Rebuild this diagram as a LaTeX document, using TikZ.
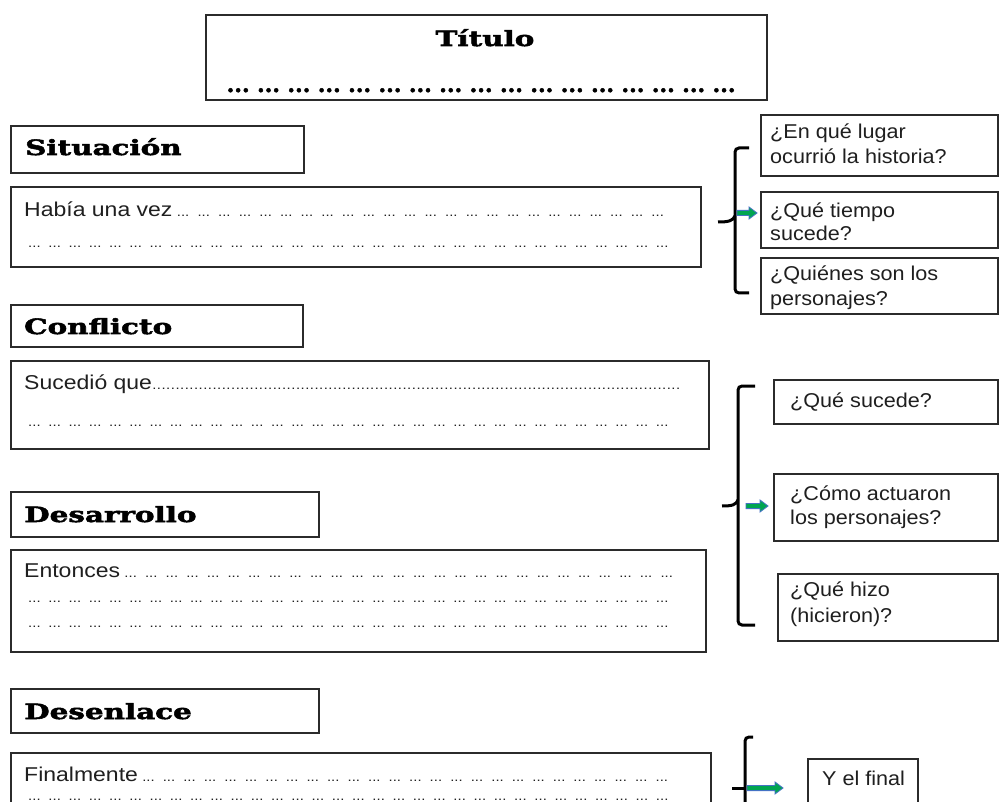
\documentclass[tikz,border=0pt]{standalone}
\usepackage{fontspec}
\setmainfont{Liberation Sans}
\newfontfamily\leftfont{Liberation Sans}[FakeStretch=1.15]
\newfontfamily\rightfont{Liberation Sans}[FakeStretch=1.08]
\newfontfamily\headfont{DejaVu Serif Bold}[FakeStretch=1.4,FakeBold=2.5]
\newfontfamily\dotfont{DejaVu Serif Bold}[FakeBold=2]
\definecolor{linegray}{HTML}{2B2B2B}
\definecolor{arrowgreen}{HTML}{00A550}
\definecolor{arrowblue}{HTML}{4472C4}
\newcommand{\smalldots}{\fontsize{13}{13}\selectfont...}
% a full text line of a fixed width: leading words, then groups of dots
\newcommand{\gline}[2]{\hbox to #1{#2\xleaders\hbox to 20pt{\hss\smalldots\hss}\hfill}}
\newcommand{\fline}[2]{\hbox to #1{#2\xleaders\hbox to 4.6pt{\hss\fontsize{13}{13}\selectfont.\hss}\hfill}}
\newcommand{\bigdots}[1]{\hbox to #1{\xleaders\hbox to 28.8pt{\hss\dotfont\fontsize{22}{22}\selectfont...\hss}\hfill}}
\newcommand{\blockarrow}[4]{% name, x0, x1, y
  \coordinate (#1) at (#3,#4);
  \draw[draw=arrowblue, fill=arrowgreen, line width=0.8pt, line join=miter]
    (#2,#4-2.6) -- (#3-8,#4-2.6) -- (#3-8,#4-6) -- (#1) -- (#3-8,#4+6) -- (#3-8,#4+2.6) -- (#2,#4+2.6) -- cycle;}
\tikzset{
  box/.style={draw=linegray, line width=1.8pt, rectangle, inner sep=0pt, anchor=north west},
  head/.style={anchor=base west, inner sep=0pt, font=\headfont\fontsize{21}{21}\selectfont},
  body/.style={anchor=base west, inner sep=0pt, font=\leftfont\fontsize{20}{20}\selectfont, text=black!88},
  qtext/.style={anchor=base west, inner sep=0pt, font=\rightfont\fontsize{20}{20}\selectfont, text=black!88},
  brace/.style={draw=black, line width=3pt, rounded corners=4pt}
}
\begin{document}
\begin{tikzpicture}[x=1pt,y=-1pt]
\useasboundingbox (0,0) rectangle (999,802);
\clip (0,0) rectangle (999,802);
% title
\node[box, minimum width=561pt, minimum height=85pt] (title) at (205,14) {};
\node[head, anchor=base] (titletext) at (485,46) {Título};
\node[anchor=base west, inner sep=0pt] (titledots) at (222,92) {\bigdots{518pt}};
% Situacion
\node[box, minimum width=293pt, minimum height=47pt] (sitbox) at (10,125) {};
\node[head] (sittext) at (25,155) {Situación};
\node[box, minimum width=690pt, minimum height=80pt] (habbox) at (10,186) {};
\node[body] (hab1) at (24,217) {\gline{644pt}{Había una vez}};
\node[body] (hab2) at (24,248) {\gline{648pt}{}};
% Conflicto
\node[box, minimum width=292pt, minimum height=42pt] (conbox) at (10,304) {};
\node[head] (context) at (24,334) {Conflicto};
\node[box, minimum width=698pt, minimum height=88pt] (sucbox) at (10,360) {};
\node[body] (suc1) at (24,389) {\fline{656pt}{Sucedió que}};
\node[body] (suc2) at (24,426) {\gline{648pt}{}};
% Desarrollo
\node[box, minimum width=308pt, minimum height=45pt] (desbox) at (10,491) {};
\node[head] (destext) at (24,522) {Desarrollo};
\node[box, minimum width=695pt, minimum height=102pt] (entbox) at (10,549) {};
\node[body] (ent1) at (24,577) {\gline{653pt}{Entonces}};
\node[body] (ent2) at (24,602) {\gline{648pt}{}};
\node[body] (ent3) at (24,627) {\gline{648pt}{}};
% Desenlace
\node[box, minimum width=308pt, minimum height=44pt] (dnlbox) at (10,688) {};
\node[head] (dnltext) at (24,719) {Desenlace};
\node[box, minimum width=700pt, minimum height=80pt] (finbox) at (10,752) {};
\node[body] (fin1) at (24,781) {\gline{648pt}{Finalmente}};
\node[body] (fin2) at (24,800) {\gline{648pt}{}};
% right column, group 1
\node[box, minimum width=237pt, minimum height=61pt] (qa) at (760,114) {};
\node[qtext] (qa1) at (770,139) {¿En qué lugar};
\node[qtext] (qa2) at (770,164) {ocurrió la historia?};
\node[box, minimum width=237pt, minimum height=56pt] (qb) at (760,191) {};
\node[qtext] (qb1) at (770,218) {¿Qué tiempo};
\node[qtext] (qb2) at (770,241) {sucede?};
\node[box, minimum width=237pt, minimum height=56pt] (qc) at (760,257) {};
\node[qtext] (qc1) at (770,281) {¿Quiénes son los};
\node[qtext] (qc2) at (770,306) {personajes?};
\coordinate (b1top) at (749,148);
\coordinate (b1bot) at (749,293);
\coordinate (b1tip) at (718,222);
\draw[brace] (b1top) -- (735,148) -- (735,293) -- (b1bot);
\draw[line width=3pt] (b1tip) .. controls (728,222) and (733,221) .. (735,216);
\blockarrow{arr1}{737}{757}{213}
% right column, group 2
\node[box, minimum width=224pt, minimum height=44pt] (qd) at (773,379) {};
\node[qtext] (qd1) at (790,407) {¿Qué sucede?};
\node[box, minimum width=224pt, minimum height=67pt] (qe) at (773,473) {};
\node[qtext] (qe1) at (790,500) {¿Cómo actuaron};
\node[qtext] (qe2) at (790,524) {los personajes?};
\node[box, minimum width=220pt, minimum height=67pt] (qf) at (777,573) {};
\node[qtext] (qf1) at (790,596) {¿Qué hizo};
\node[qtext] (qf2) at (790,622) {(hicieron)?};
\coordinate (b2top) at (755,386);
\coordinate (b2bot) at (755,625);
\coordinate (b2tip) at (722,506);
\draw[brace] (b2top) -- (738,386) -- (738,625) -- (b2bot);
\draw[line width=3pt] (b2tip) .. controls (732,506) and (736,505) .. (738,500);
\blockarrow{arr2}{746}{768}{506}
% right column, group 3
\node[box, minimum width=110pt, minimum height=60pt] (qg) at (807,758) {};
\node[qtext] (qg1) at (822,785) {Y el final};
\coordinate (b3top) at (753,737);
\coordinate (b3tip) at (732,788);
\draw[brace] (b3top) -- (745,737) -- (745,810);
\draw[line width=3pt] (b3tip) -- (745,788);
\blockarrow{arr3}{747}{783}{788}
\end{tikzpicture}
\end{document}
